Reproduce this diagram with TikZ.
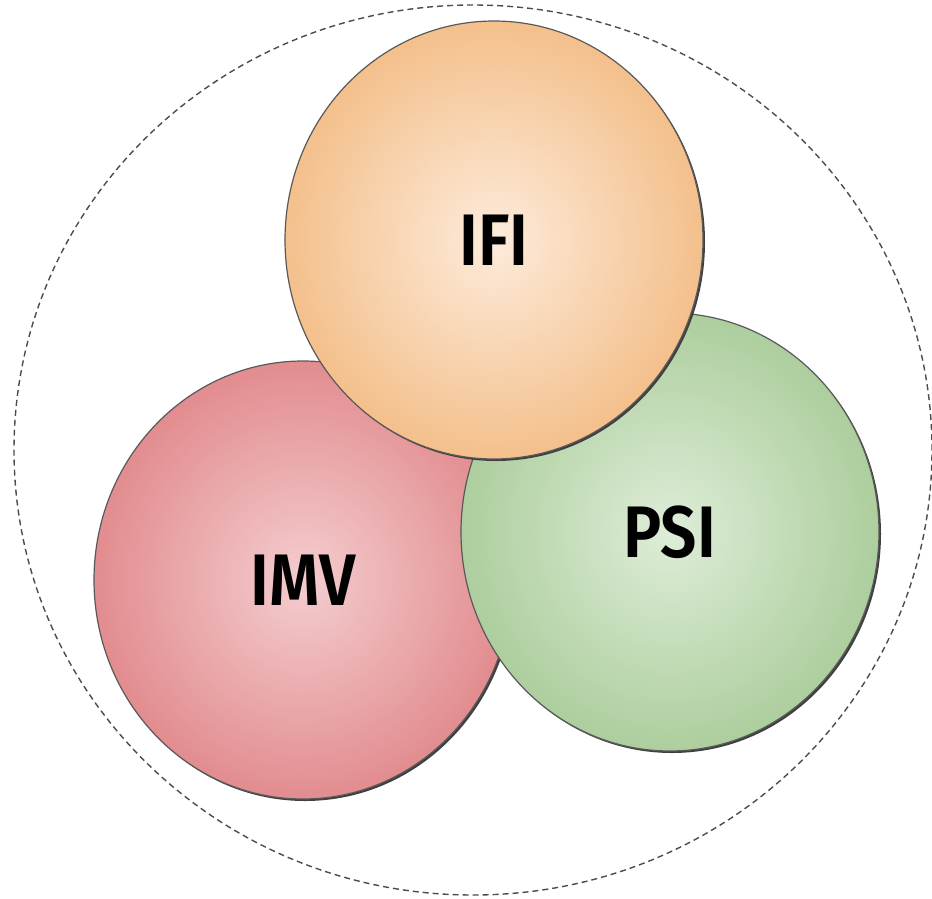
\documentclass[tikz,border=0pt]{standalone}
\usepackage{fontspec}
\setsansfont{Fira Sans}[BoldFont={Fira Sans SemiBold},FakeStretch=0.88]
\usepackage{xcolor}
\usepackage{tikz}
\usetikzlibrary{shapes.geometric, shadows}

\definecolor{ifiin}{HTML}{FDEBDB}
\definecolor{ifiout}{HTML}{F2B97F}
\definecolor{imvin}{HTML}{F4CDCF}
\definecolor{imvout}{HTML}{DF8285}
\definecolor{psiin}{HTML}{DEEDD8}
\definecolor{psiout}{HTML}{A5C994}
\pgfdeclareradialshading{ifishade}{\pgfpoint{0bp}{0bp}}{color(0bp)=(ifiin); color(29bp)=(ifiout); color(50bp)=(ifiout)}
\pgfdeclareradialshading{imvshade}{\pgfpoint{0bp}{0bp}}{color(0bp)=(imvin); color(29bp)=(imvout); color(50bp)=(imvout)}
\pgfdeclareradialshading{psishade}{\pgfpoint{0bp}{0bp}}{color(0bp)=(psiin); color(29bp)=(psiout); color(50bp)=(psiout)}

\begin{document}
\begin{tikzpicture}[
  x=1pt, y=-1pt,
  ball/.style={ellipse,draw=black!65,line width=1.2pt,minimum width=418pt,minimum height=438pt,inner sep=0pt,
    drop shadow={shadow xshift=2pt,shadow yshift=-2pt,fill=black!75,opacity=1}},
  frame/.style={ellipse,draw=black!70,line width=1.4pt,dash pattern=on 6pt off 4pt,minimum width=918pt,minimum height=890pt},
  font=\sffamily\bfseries\fontsize{73}{73}\selectfont
]
\useasboundingbox (0,0) rectangle (932,898);

% Draw outer dashed boundary
\node[frame] at (473,450) (outer) {};

% Draw the three circles, bottom one first
\node[ball,shading=imvshade] at (303,580) (imv) {IMV};
\node[ball,shading=psishade] at (670,532) (psi) {PSI};
\node[ball,shading=ifishade] at (494,240) (ifi) {IFI};

\end{tikzpicture}
\end{document}
